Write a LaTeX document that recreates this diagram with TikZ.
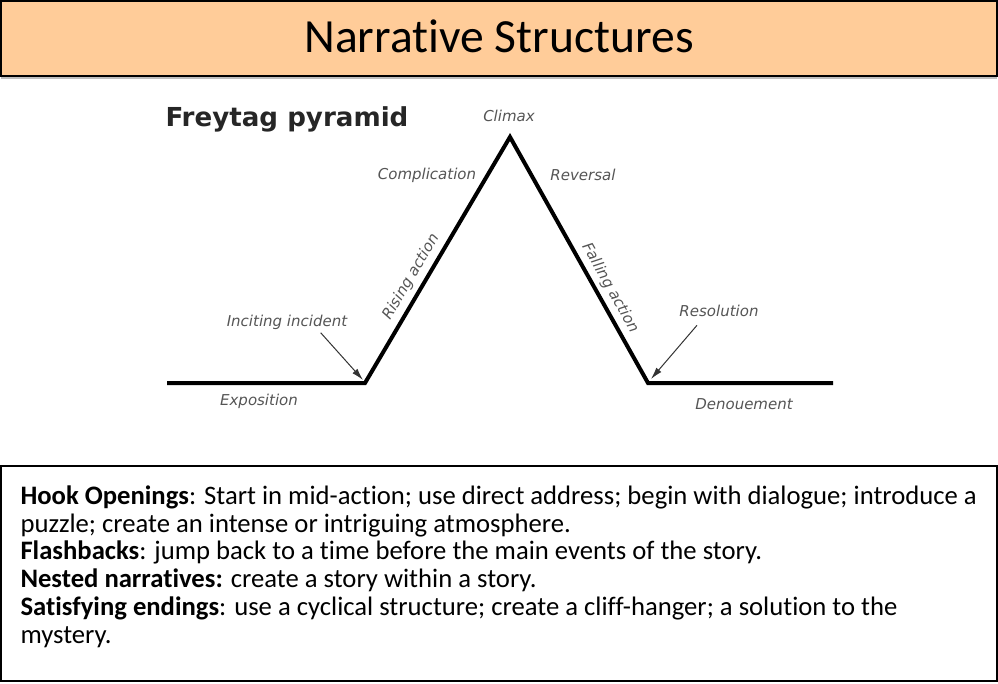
\documentclass[tikz,border=0pt]{standalone}
\usepackage{fontspec}
\setmainfont[Ligatures=NoCommon]{Carlito}
\newfontfamily\pyrfont[ItalicFont={DejaVu Sans Oblique},BoldFont={DejaVu Sans Bold}]{DejaVu Sans}
\usetikzlibrary{arrows.meta}

\definecolor{peach}{RGB}{255,204,153}
\definecolor{labelgray}{RGB}{85,85,85}

\tikzset{every picture/.style={line width=0.75pt}}
\tikzset{
  titletext/.style={inner sep=0pt, font=\fontsize{35.7}{40}\selectfont},
  pyrtitle/.style={inner sep=0.75pt, anchor=base west, text=black!85, font=\pyrfont\bfseries\fontsize{19.6}{23}\selectfont},
  stagelabel/.style={inner sep=0.75pt, text=labelgray, font=\pyrfont\itshape\fontsize{11.25}{13}\selectfont},
  plotline/.style={line width=3pt, line join=miter},
  pointer/.style={line width=0.75pt, draw=black!80, -{Latex[length=9pt,width=5pt]}},
  notetext/.style={inner sep=0pt, anchor=north west, align=left, font=\fontsize{20}{20.9}\selectfont},
}

\begin{document}
\begin{tikzpicture}[x=0.75pt,y=0.75pt,yscale=-1,xscale=1]
	\useasboundingbox (0,0) rectangle (998,684);
	
	%Shape: Rectangle [title bar]
	\draw [fill=peach, line width=1.5pt]  (1,1) -- (997,1) -- (997,76) -- (1,76) -- cycle ;
	%Straight Lines [title shadow]
	\draw [color=black!25, line width=1.5pt]  (1,78.5) -- (997,78.5) ;
	% Text Node
	\node [titletext, anchor=base] (title) at (499,53) {Narrative Structures};
	
	% Text Node
	\node [pyrtitle] (pyramid) at (164,127) {Freytag pyramid};
	
	% pyramid corners
	\coordinate (expoL) at (167,383);
	\coordinate (incite) at (365,383);
	\coordinate (peak) at (510,137);
	\coordinate (resol) at (648,383);
	\coordinate (denoR) at (833,383);
	%Straight Lines [pyramid]
	\draw [plotline]  (expoL) -- (incite) -- (peak) -- (resol) -- (denoR) ;
	
	% Text Node
	\node [stagelabel] (climax) at (509,116) {Climax};
	% Text Node
	\node [stagelabel] (complication) at (427,175) {Complication};
	% Text Node
	\node [stagelabel] (reversal) at (583,175) {Reversal};
	% Text Node
	\node [stagelabel, rotate=59.5] (rising) at (411,277) {Rising action};
	% Text Node
	\node [stagelabel, rotate=-60.7] (falling) at (610,288) {Falling action};
	% Text Node
	\node [stagelabel] (inciting) at (287,322) {Inciting incident};
	% Text Node
	\node [stagelabel] (resolution) at (719,311) {Resolution};
	% Text Node
	\node [stagelabel] (exposition) at (259,401) {Exposition};
	% Text Node
	\node [stagelabel] (denouement) at (744,404) {Denouement};
	
	%Straight Lines [arrows]
	\coordinate (incitetip) at (363,380);
	\coordinate (resoltip) at (651,379);
	\path (inciting.south east) ++(-28,2) coordinate (incitetail);
	\path (resolution.south west) ++(19,7) coordinate (resoltail);
	\draw [pointer]  (incitetail) -- (incitetip) ;
	\draw [pointer]  (resoltail) -- (resoltip) ;
	
	%Shape: Rectangle [notes box]
	\draw [line width=1.5pt]  (1,466) -- (997,466) -- (997,681) -- (1,681) -- cycle ;
	% Text Node
	\node [notetext] (notes) at (20,485) {\textbf{Hook Openings}: Start in mid-action; use direct address; begin with dialogue; introduce a\\
		puzzle; create an intense or intriguing atmosphere.\\
		\textbf{Flashbacks}: jump back to a time before the main events of the story.\\
		\textbf{Nested narratives:} create a story within a story.\\
		\textbf{Satisfying endings}: use a cyclical structure; create a cliff-hanger; a solution to the\\
		mystery.};
	
\end{tikzpicture}
\end{document}
